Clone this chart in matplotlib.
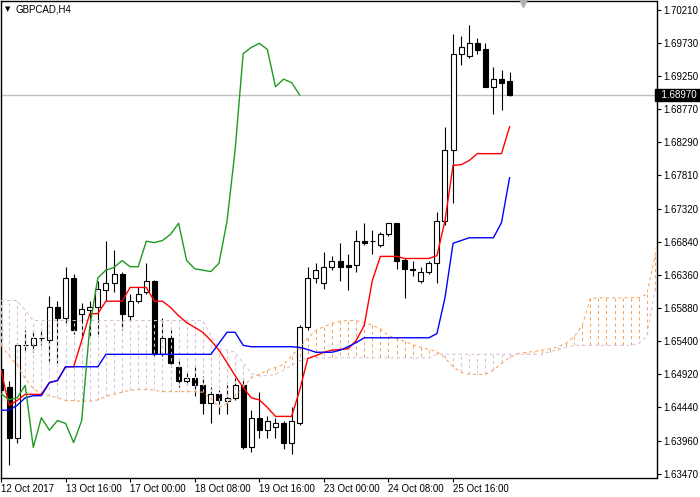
import matplotlib
matplotlib.use("Agg")
import matplotlib.pyplot as plt
from matplotlib.transforms import blended_transform_factory

plt.rcParams["font.family"] = ["Liberation Sans", "DejaVu Sans"]

symbol = "GBPCAD,H4"

# H4 candles, bar 0 = left edge of the chart
opens = [1.6500, 1.6473, 1.6399, 1.6534, 1.6534, 1.6544, 1.6542, 1.6589, 1.6574, 1.6631,
         1.6580, 1.6585, 1.6590, 1.6614, 1.6624, 1.6638, 1.6576, 1.6599, 1.6612, 1.6627,
         1.6522, 1.6545, 1.6502, 1.6482, 1.6486, 1.6476, 1.6450, 1.6464, 1.6454, 1.6458,
         1.6476, 1.6386, 1.6429, 1.6411, 1.6416, 1.6421, 1.6393, 1.6422, 1.6560, 1.6632,
         1.6624, 1.6647, 1.6656, 1.6650, 1.6650, 1.6685, 1.6685, 1.6679, 1.6695, 1.6711,
         1.6658, 1.6645, 1.6628, 1.6640, 1.6653, 1.6714, 1.6817, 1.6957, 1.6954, 1.6972,
         1.6964, 1.6909, 1.6920, 1.6917]
highs = [1.6512, 1.6483, 1.6537, 1.6556, 1.6556, 1.6558, 1.6606, 1.6599, 1.6648, 1.6638,
         1.6595, 1.6599, 1.6628, 1.6686, 1.6672, 1.6641, 1.6608, 1.6618, 1.6654, 1.6629,
         1.6574, 1.6556, 1.6512, 1.6495, 1.6503, 1.6490, 1.6473, 1.6470, 1.6476, 1.6486,
         1.6486, 1.6440, 1.6467, 1.6432, 1.6428, 1.6424, 1.6444, 1.6563, 1.6648, 1.6653,
         1.6669, 1.6663, 1.6683, 1.6666, 1.6701, 1.6711, 1.6701, 1.6698, 1.6712, 1.6712,
         1.6660, 1.6657, 1.6647, 1.6657, 1.6727, 1.6850, 1.6986, 1.6982, 1.6998, 1.6980,
         1.6972, 1.6938, 1.6933, 1.6930]
lows = [1.6454, 1.6360, 1.6392, 1.6524, 1.6524, 1.6534, 1.6512, 1.6509, 1.6567, 1.6551,
        1.6548, 1.6548, 1.6551, 1.6599, 1.6611, 1.6556, 1.6570, 1.6596, 1.6608, 1.6518,
        1.6519, 1.6503, 1.6473, 1.6477, 1.6460, 1.6434, 1.6421, 1.6435, 1.6435, 1.6455,
        1.6383, 1.6379, 1.6400, 1.6400, 1.6400, 1.6383, 1.6377, 1.6419, 1.6557, 1.6624,
        1.6616, 1.6643, 1.6628, 1.6614, 1.6641, 1.6679, 1.6667, 1.6676, 1.6692, 1.6645,
        1.6603, 1.6635, 1.6625, 1.6638, 1.6625, 1.6708, 1.6740, 1.6941, 1.6951, 1.6957,
        1.6908, 1.6869, 1.6875, 1.6895]
closes = [1.6469, 1.6399, 1.6534, 1.6535, 1.6544, 1.6545, 1.6589, 1.6574, 1.6631, 1.6557,
          1.6586, 1.6589, 1.6616, 1.6625, 1.6638, 1.6580, 1.6599, 1.6609, 1.6627, 1.6522,
          1.6545, 1.6509, 1.6482, 1.6486, 1.6477, 1.6450, 1.6464, 1.6455, 1.6458, 1.6476,
          1.6386, 1.6429, 1.6411, 1.6425, 1.6421, 1.6393, 1.6425, 1.6561, 1.6632, 1.6643,
          1.6647, 1.6657, 1.6648, 1.6648, 1.6685, 1.6683, 1.6686, 1.6695, 1.6711, 1.6657,
          1.6645, 1.6643, 1.6641, 1.6653, 1.6714, 1.6817, 1.6957, 1.6966, 1.6972, 1.6963,
          1.6909, 1.6920, 1.6915, 1.6897]

# ichimoku lines
tenkan = [1.6498, 1.6447, 1.6454, 1.6463, 1.6463, 1.6463, 1.6480, 1.6483, 1.6503, 1.6503,
          1.6541, 1.6580, 1.6580, 1.6598, 1.6598, 1.6598, 1.6618, 1.6618, 1.6618, 1.6598,
          1.6598, 1.6589, 1.6577, 1.6567, 1.6560, 1.6553, 1.6541, 1.6527, 1.6509, 1.6490,
          1.6473, 1.6458, 1.6455, 1.6444, 1.6431, 1.6431, 1.6431, 1.6469, 1.6515, 1.6519,
          1.6524, 1.6527, 1.6528, 1.6529, 1.6541, 1.6563, 1.6628, 1.6663, 1.6663, 1.6663,
          1.6660, 1.6660, 1.6660, 1.6660, 1.6664, 1.6715, 1.6795, 1.6796, 1.6802, 1.6812,
          1.6812, 1.6812, 1.6812, 1.6851]
kijun = [1.6440, 1.6440, 1.6447, 1.6458, 1.6461, 1.6461, 1.6480, 1.6483, 1.6503, 1.6503,
         1.6503, 1.6503, 1.6503, 1.6521, 1.6521, 1.6521, 1.6521, 1.6521, 1.6521, 1.6521,
         1.6521, 1.6521, 1.6521, 1.6521, 1.6521, 1.6521, 1.6521, 1.6537, 1.6553, 1.6553,
         1.6534, 1.6532, 1.6532, 1.6532, 1.6532, 1.6532, 1.6532, 1.6531, 1.6528, 1.6524,
         1.6524, 1.6524, 1.6527, 1.6532, 1.6538, 1.6545, 1.6545, 1.6545, 1.6545, 1.6545,
         1.6545, 1.6545, 1.6545, 1.6545, 1.6551, 1.6603, 1.6682, 1.6686, 1.6690, 1.6690,
         1.6690, 1.6690, 1.6712, 1.6777]
span_a = [1.6534, 1.6519, 1.6505, 1.6486, 1.6471, 1.6464, 1.6461, 1.6458, 1.6454, 1.6454,
          1.6453, 1.6453, 1.6455, 1.6460, 1.6463, 1.6466, 1.6469, 1.6470, 1.6470, 1.6469,
          1.6467, 1.6467, 1.6467, 1.6467, 1.6467, 1.6466, 1.6457, 1.6444, 1.6450, 1.6461,
          1.6473, 1.6487, 1.6492, 1.6498, 1.6502, 1.6506, 1.6519, 1.6531, 1.6544, 1.6556,
          1.6561, 1.6566, 1.6569, 1.6570, 1.6570, 1.6567, 1.6563, 1.6558, 1.6548, 1.6544,
          1.6540, 1.6535, 1.6531, 1.6528, 1.6525, 1.6516, 1.6503, 1.6495, 1.6492, 1.6492,
          1.6492, 1.6498, 1.6508, 1.6516, 1.6522, 1.6524, 1.6525, 1.6527, 1.6529, 1.6532,
          1.6537, 1.6547, 1.6563, 1.6602, 1.6603, 1.6603, 1.6603, 1.6603, 1.6603, 1.6603,
          1.6608, 1.6663, 1.6737]
span_b = [1.6599, 1.6599, 1.6599, 1.6585, 1.6570, 1.6570, 1.6570, 1.6570, 1.6570, 1.6570,
          1.6570, 1.6570, 1.6570, 1.6570, 1.6570, 1.6570, 1.6570, 1.6570, 1.6570, 1.6570,
          1.6570, 1.6570, 1.6570, 1.6570, 1.6570, 1.6570, 1.6548, 1.6529, 1.6527, 1.6524,
          1.6509, 1.6493, 1.6490, 1.6490, 1.6492, 1.6498, 1.6505, 1.6512, 1.6516, 1.6516,
          1.6516, 1.6516, 1.6516, 1.6516, 1.6516, 1.6516, 1.6516, 1.6516, 1.6516, 1.6516,
          1.6516, 1.6516, 1.6516, 1.6516, 1.6521, 1.6521, 1.6521, 1.6521, 1.6521, 1.6521,
          1.6521, 1.6521, 1.6521, 1.6521, 1.6521, 1.6521, 1.6521, 1.6521, 1.6525, 1.6528,
          1.6531, 1.6534, 1.6534, 1.6534, 1.6534, 1.6534, 1.6534, 1.6534, 1.6534, 1.6537,
          1.6547, 1.6614, 1.6628]
chikou_shift = 26

date_bars = [0, 8, 16, 24, 32, 40, 48, 56]
date_labels = ["12 Oct 2017", "13 Oct 16:00", "17 Oct 00:00", "18 Oct 08:00",
               "19 Oct 16:00", "23 Oct 00:00", "24 Oct 08:00", "25 Oct 16:00"]
price_ticks = [1.63470, 1.63960, 1.64440, 1.64920, 1.65400, 1.65880, 1.66360, 1.66840,
               1.67320, 1.67810, 1.68290, 1.68770, 1.69250, 1.69730, 1.70210]
last_price = 1.68970

fig = plt.figure(figsize=(7, 4.97), dpi=100)
ax = fig.add_axes([0.5 / 700, 19.5 / 497, 656 / 700, 477 / 497])

n = len(closes)
bars = list(range(n))

# current price line
ax.axhline(last_price, color="#c0c0c0", lw=1, zorder=1)

# candles
ax.vlines(bars, lows, highs, color="black", lw=0.8, zorder=2)
body_lo = [min(o, c) for o, c in zip(opens, closes)]
body_h = [max(abs(c - o), 0.00003) for o, c in zip(opens, closes)]
body_col = ["white" if c >= o else "black" for o, c in zip(opens, closes)]
ax.bar(bars, body_h, bottom=body_lo, width=0.62, color=body_col,
       edgecolor="black", lw=0.8, zorder=2.1)

# cloud: dotted histogram between the spans
cloud_x = list(range(len(span_a)))
hatch_col = ["#f4a460" if a > b else "#d8bfd8" for a, b in zip(span_a, span_b)]
ax.vlines(cloud_x, span_a, span_b, colors=hatch_col, lw=0.75,
          linestyles=(0, (3, 3)), zorder=3)
ax.plot(cloud_x, span_a, color="#f4a460", lw=0.75, ls=(0, (3, 3)), zorder=3)
ax.plot(cloud_x, span_b, color="#d8bfd8", lw=0.75, ls=(0, (3, 3)), zorder=3)

# tenkan, kijun, chikou
ax.plot(bars, tenkan, color="#ff0000", lw=1, zorder=4)
ax.plot(bars, kijun, color="#0000ff", lw=1, zorder=4)
ax.plot(range(n - chikou_shift), closes[chikou_shift:], color="#1f9a1f", lw=1, zorder=4)

ax.set_xlim(-0.06, 81.2)
ax.set_ylim(1.63424, 1.703405)

ax.yaxis.tick_right()
ax.set_yticks(price_ticks)
ax.set_yticklabels(["%.5f" % p for p in price_ticks])
ax.set_xticks(date_bars)
ax.set_xticklabels(date_labels, ha="left")
ax.tick_params(axis="both", direction="out", length=3, width=0.8, labelsize=7,
               colors="black", pad=2)
for s in ax.spines.values():
    s.set_color("black")
    s.set_linewidth(1)

# last price box on the price scale
tr = blended_transform_factory(ax.transAxes, ax.transData)
ax.text(1.0, last_price, "  %.5f " % last_price, transform=tr, ha="left", va="center",
        fontsize=7, color="white", zorder=10, clip_on=False,
        bbox=dict(boxstyle="square,pad=0.15", fc="black", ec="black"))

# chart shift marker
tr2 = blended_transform_factory(ax.transData, ax.transAxes)
ax.plot([64.7], [0.995], marker="v", color="#b0b0b0", markersize=6, transform=tr2,
        clip_on=False, zorder=10)

# symbol label
fig.text(5 / 700, 1 - 9 / 497, "\u25bc", fontsize=5, va="center", ha="left",
         family="DejaVu Sans")
fig.text(16 / 700, 1 - 9 / 497, symbol, fontsize=7, va="center", ha="left")

fig.savefig("out.png", dpi=100)
